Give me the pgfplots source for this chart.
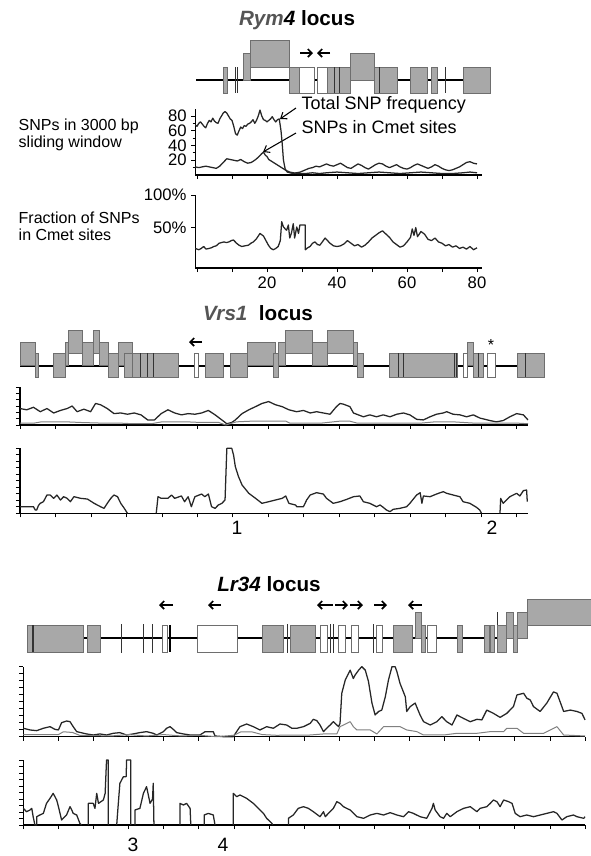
\documentclass[border=0pt]{standalone}
\usepackage{fontspec}
\setmainfont{Liberation Sans}
\usepackage{pgfplots}
\pgfplotsset{compat=1.18}
\usetikzlibrary{arrows.meta}
\definecolor{gfill}{RGB}{168,168,168}
\definecolor{gedge}{RGB}{110,110,110}
\definecolor{tgray}{RGB}{85,85,85}
\newcommand\gb[4]{\addplot[draw=gedge, fill=gfill, line width=0.6pt] coordinates {(#1,#2) (#3,#2) (#3,#4) (#1,#4) (#1,#2)};}
\newcommand\wb[4]{\addplot[draw=gedge, fill=white, line width=0.6pt] coordinates {(#1,#2) (#3,#2) (#3,#4) (#1,#4) (#1,#2)};}
\newcommand\vl[3]{\addplot[draw=black!80, line width=0.7pt] coordinates {(#1,#2) (#1,#3)};}
\newcommand\hl[3]{\addplot[draw=black, line width=1.1pt] coordinates {(#1,#3) (#2,#3)};}
\newcommand\ar[3]{\addplot[-{Straight Barb[length=3pt,width=6pt]}, line width=1.3pt, black] coordinates {(#1,#3) (#2,#3)};}
\pgfplotsset{
  dax/.style={scale only axis, anchor=south west, axis x line=bottom, axis y line=left,
    axis line style={-, line width=0.8pt}, tick align=outside,
    major tick length=3pt, minor tick length=2pt,
    tick style={black, line width=0.6pt},
    ticklabel style={font=\fontsize{12.5}{14}\selectfont},
    /pgf/number format/assume math mode=true, clip=false,
    unbounded coords=jump,
    every axis plot/.append style={line join=round}},
  tot/.style={black!85, line width=0.95pt},
  cme/.style={black!50, line width=0.75pt},
}
\begin{document}
\begin{tikzpicture}
\useasboundingbox (0,0) rectangle (442.5pt,-642pt);
% ---------- overlay: gene models and texts in pixel coordinates ----------
\begin{axis}[at={(0,0)}, anchor=north west, scale only axis, width=442.5pt, height=642pt,
  xmin=0, xmax=590, ymin=0, ymax=856, y dir=reverse, hide axis, clip=false]
% Rym4
\hl{196}{463}{80}
\gb{223}{67}{227}{93}
\vl{235}{67}{93}\vl{237.5}{67}{93}
\gb{243}{53}{250}{80}
\gb{250}{40}{289}{67}
\gb{289}{67}{299}{93}
\wb{299}{67}{314}{93}
\wb{317}{67}{327}{93}
\gb{327}{67}{350}{93}
\vl{334}{67}{93}\vl{339}{67}{93}
\gb{350}{53}{374}{80}
\gb{374}{67}{397}{93}
\vl{379}{67}{93}
\gb{410}{67}{427}{93}
\gb{431}{67}{437}{93}
\vl{445}{67}{93}
\gb{463}{67}{490}{93}
\ar{300}{313}{53}
\ar{330}{317}{53}
% Vrs1
\hl{20}{517}{366}
\gb{20}{342}{35}{365}
\gb{35}{353}{38}{377}
\gb{53}{353}{65}{377}
\gb{65}{342}{68}{365}
\gb{68}{330}{82}{353}
\gb{82}{342}{93}{365}
\gb{93}{330}{99}{353}
\gb{99}{342}{108}{365}
\gb{108}{353}{118}{377}
\gb{118}{342}{132}{365}
\gb{124}{353}{132}{377}
\gb{132}{353}{178}{377}
\vl{140}{353}{377}\vl{147}{353}{377}\vl{153}{353}{377}
\wb{194}{353}{198}{377}
\gb{205}{353}{223}{377}
\gb{230}{353}{247}{377}
\gb{247}{342}{275}{365}
\gb{273}{353}{278}{377}
\gb{278}{342}{285}{365}
\gb{285}{330}{312}{353}
\gb{312}{342}{327}{365}
\gb{327}{330}{353}{353}
\gb{353}{342}{357}{365}
\gb{357}{353}{363}{377}
\gb{389}{353}{457}{377}
\vl{398}{353}{377}\vl{403}{353}{377}\vl{454}{353}{377}\vl{456}{353}{377}
\wb{463}{353}{467}{377}
\gb{467}{342}{473}{365}
\gb{473}{353}{483}{377}
\vl{478}{353}{377}
\wb{487}{353}{495}{377}
\gb{517}{353}{544}{377}
\vl{525}{353}{377}
\ar{202}{189}{342}
\node[font=\fontsize{12}{12}\selectfont] at (axis cs:491,345) {*};
% Lr34
\hl{27}{527}{638}
\gb{27}{625}{83}{652}
\vl{32}{625}{652}\vl{33.5}{625}{652}
\gb{87}{625}{100}{652}
\vl{121}{624}{653}\vl{143}{624}{653}\vl{152}{624}{653}
\wb{162}{625}{167}{652}
\addplot[black, line width=1.5pt] coordinates {(169.5,625) (169.5,652)};
\wb{197}{625}{237}{652}
\gb{262}{625}{283}{652}
\vl{287}{624}{653}
\gb{290}{625}{315}{652}
\wb{320}{625}{327}{652}
\vl{330}{624}{653}\vl{333}{624}{653}
\wb{338}{625}{345}{652}
\wb{351}{625}{358}{652}
\vl{373}{624}{653}
\wb{376}{625}{382}{652}
\gb{393}{625}{412}{652}
\gb{415}{612}{421}{638}
\gb{421}{625}{425}{652}
\wb{427}{625}{436}{652}
\gb{457}{625}{462}{652}
\gb{484}{625}{489}{652}
\gb{490}{625}{494}{652}
\vl{497}{612}{652}
\gb{497}{625}{506}{652}
\gb{506}{612}{513}{638}
\gb{513}{625}{517}{652}
\gb{517}{612}{527}{638}
\gb{527}{599}{591}{625}
\ar{173}{159}{605}
\ar{221}{208}{605}
\ar{333}{317}{605}
\ar{335}{348}{605}
\ar{350}{363}{605}
\ar{374}{387}{605}
\ar{422}{408}{605}
% titles
\node[anchor=base, font=\fontsize{15.5}{18}\selectfont] at (axis cs:297,25) {{\color{tgray}\bfseries\itshape Rym}{\bfseries\itshape 4} \textbf{locus}};
\node[anchor=base, font=\fontsize{15.5}{18}\selectfont] at (axis cs:258,320) {{\color{tgray}\bfseries\itshape Vrs1}\ \ \textbf{locus}};
\node[anchor=base, font=\fontsize{15.5}{18}\selectfont] at (axis cs:269,591) {{\bfseries\itshape Lr34} \textbf{locus}};
% left labels
\node[anchor=base west, font=\fontsize{12}{13}\selectfont] at (axis cs:14,130) {SNPs in 3000 bp};
\node[anchor=base west, font=\fontsize{12}{13}\selectfont] at (axis cs:14,147) {sliding window};
\node[anchor=base west, font=\fontsize{12}{13}\selectfont] at (axis cs:14,223) {Fraction of SNPs};
\node[anchor=base west, font=\fontsize{12}{13}\selectfont] at (axis cs:14,240) {in Cmet sites};
% annotations
\node[anchor=base west, font=\fontsize{13.5}{15}\selectfont] at (axis cs:297,109) {Total SNP frequency};
\node[anchor=base west, font=\fontsize{13.5}{15}\selectfont] at (axis cs:297,133) {SNPs in Cmet sites};
\draw[-{Straight Barb[length=4pt,width=6pt]}, line width=0.8pt] (axis cs:296,108) -- (axis cs:280,119);
\draw[-{Straight Barb[length=4pt,width=6pt]}, line width=0.8pt] (axis cs:296,133) -- (axis cs:263,152);
% numbers
\node[font=\fontsize{14.5}{15}\selectfont] at (axis cs:237,528) {1};
\node[font=\fontsize{14.5}{15}\selectfont] at (axis cs:492,528) {2};
\node[font=\fontsize{14.5}{15}\selectfont] at (axis cs:133,845) {3};
\node[font=\fontsize{14.5}{15}\selectfont] at (axis cs:223,845) {4};
\end{axis}
% ---------- Rym4 SNP counts ----------
\begin{axis}[dax, at={(146.44pt,-131.25pt)}, width=215.25pt, height=49.8pt,
  xmin=-0.5, xmax=81.5, ymin=0, ymax=90, xtick={0,10,...,80}, xticklabels={},
  ytick={20,40,60,80}, minor ytick={10,30,50,70}]
\addplot[tot] coordinates {(-0.5,68)(0,66)(0.5,70)(1,72)(1.5,69)(2,66)(2.5,64)(3,70)(3.5,74)(4,72)(4.5,77)(5,73)(5.5,71)(6,70)(6.5,76)(7,80)(7.5,84)(8,86)(8.5,84)(9,80)(9.5,76)(10,74)(10.5,66)(11,56)(11.5,54)(12,60)(12.5,65)(13,63)(13.5,67)(14,66)(14.5,69)(15,70)(15.5,72)(16,75)(16.5,70)(17,74)(17.5,80)(18,88)(18.5,80)(19,75)(19.5,74)(20,72)(20.5,74)(21,76)(21.5,79)(22,75)(22.5,72)(23,75)(23.5,76)(24,60)(24.3,45)(24.7,20)(25.2,8)(25.8,4)(26.5,3)(27.5,2)(28.5,3)(29.5,4)(30,5)(31,7)(32,9)(33,10)(34,12)(35,11)(36,13)(37,15)(38,13)(39,12)(40,14)(41,16)(42,13)(43,10)(44,9)(45,12)(46,15)(47,13)(48,10)(49,8)(50,11)(51,14)(52,16)(53,15)(54,12)(55,10)(56,12)(57,14)(58,11)(59,9)(60,8)(61,10)(62,13)(63,15)(64,13)(65,11)(66,9)(67,11)(68,14)(69,12)(70,9)(71,7)(72,6)(73,7)(74,9)(75,11)(76,14)(77,17)(78,18)(79,16)(80,15)};
\addplot[tot] coordinates {(-0.5,11)(0.5,10)(1.5,11)(2.5,12)(3.5,11)(4.5,10)(5.5,9)(6.5,12)(7.5,17)(8.5,22)(9.5,21)(10.5,20)(11.5,19)(12.5,21)(13.5,18)(14.5,16)(15.5,17)(16.5,20)(17.5,24)(18.5,29)(19,31)(19.5,27)(20,25)(20.5,21)(21.5,18)(22.5,15)(23.5,12)(24.5,9)(25.5,6)(26.5,4)(27.5,3)(29,2)(31,2)(33,3)(35,2)(37,3)(40,4)(43,3)(46,2)(49,3)(52,4)(55,3)(58,2)(61,3)(64,4)(67,3)(70,2)(73,2)(76,3)(78,4)(80,3)};
\end{axis}
% ---------- Rym4 fraction ----------
\begin{axis}[dax, at={(146.44pt,-201pt)}, width=215.25pt, height=54.75pt,
  xmin=-0.5, xmax=81.5, ymin=-12, ymax=100, xtick={0,10,...,80}, xticklabels={,,20,,40,,60,,80},
  ytick={50,100}, yticklabels={50\%,100\%}]
\addplot[tot] coordinates {(-0.5,18)(0.5,16)(1.2,18)(1.9,21)(2.6,17)(3.4,18)(4.1,19)(4.8,21)(5.5,22)(6.3,26)(7,27)(7.7,28)(8.4,27)(9.1,28)(9.8,30)(10.4,31)(11.3,26)(12,23)(12.8,21)(13.7,22)(14.7,23)(15.4,26)(16.1,28)(17,33)(18,41)(19,37)(19.7,30)(20.4,23)(21.1,18)(21.8,16)(22.5,18)(23.2,21)(23.8,30)(24.2,59)(24.7,51)(25.2,48)(25.6,46)(26.1,54)(26.5,34)(27,42)(27.5,56)(27.9,34)(28.5,51)(29,41)(29.4,54)(30.4,54)(30.9,54)(30.95,16)(31.6,19)(32.3,21)(33,26)(33.7,28)(34.4,24)(35.1,23)(35.8,28)(36.6,34)(37.3,30)(38,26)(39,22)(40,21)(41,22)(42,25)(43,30)(44,26)(45,22)(46,24)(47,20)(48,23)(49,28)(50,34)(51,38)(52,42)(53,45)(54,40)(55,35)(56,28)(57,24)(58,20)(59,22)(60,28)(61,35)(61.5,48)(62,38)(62.5,50)(63,36)(64,44)(65,40)(66,32)(67,30)(68,34)(69,28)(70,26)(71,22)(72,24)(73,20)(74,22)(75,18)(76,20)(77,17)(78,21)(79,16)(80,19)};
\end{axis}
% ---------- Vrs1 SNP counts ----------
\begin{axis}[dax, at={(15pt,-318.75pt)}, width=381pt, height=28.5pt,
  xmin=0, xmax=14.32, ymin=0, ymax=6, xtick={0,...,14}, xticklabels={}, ytick={0,...,6}, yticklabels={}]
\addplot[tot] coordinates {(0,2.6)(0.19,2.4)(0.38,2.8)(0.57,2.1)(0.76,2.6)(0.95,1.9)(1.14,2.3)(1.33,2.6)(1.47,3.0)(1.61,2.1)(1.80,2.5)(1.99,2.1)(2.13,3.4)(2.27,3.2)(2.46,2.6)(2.65,1.8)(2.84,1.9)(3.03,1.7)(3.22,1.9)(3.41,1.6)(3.60,0.8)(3.79,0.8)(3.98,1.8)(4.17,2.4)(4.36,1.9)(4.55,1.6)(4.74,1.8)(4.93,1.7)(5.12,1.9)(5.31,2.3)(5.50,1.6)(5.69,0.8)(5.83,0.2)(5.97,0.4)(6.07,0.8)(6.26,1.8)(6.45,2.4)(6.64,2.9)(6.82,3.4)(7.01,3.7)(7.20,3.2)(7.39,2.9)(7.58,2.4)(7.80,2.1)(7.99,2.3)(8.18,1.9)(8.36,2.1)(8.55,1.9)(8.74,1.7)(8.92,2.9)(9.02,3.4)(9.11,3.3)(9.30,2.9)(9.40,1.9)(9.49,1.7)(9.68,1.3)(9.86,1.6)(10.05,1.3)(10.24,1.6)(10.43,1.3)(10.62,1.7)(10.81,1.9)(10.99,1.6)(11.18,0.9)(11.37,0.8)(11.56,1.3)(11.74,1.7)(11.93,1.9)(12.03,2.1)(12.21,1.7)(12.40,1.6)(12.59,1.3)(12.78,1.6)(12.96,1.1)(13.25,0.7)(13.43,0.5)(13.62,0.7)(13.81,1.3)(14.0,1.8)(14.19,1.6)(14.32,0.8)};
\addplot[cme] coordinates {(0,0.3)(0.4,0.3)(0.6,0.5)(1.3,0.5)(1.7,0.4)(2.3,0.3)(2.8,0.3)(3.2,0.2)(3.7,0.2)(4.0,0.5)(4.7,0.5)(5.1,0.4)(5.6,0.4)(5.8,0.0)(6.1,0.5)(6.5,0.6)(7.5,0.6)(7.6,0.3)(8.5,0.3)(9.0,0.6)(9.3,0.6)(9.5,0.3)(10.5,0.3)(11.3,0.3)(11.7,0.5)(12.2,0.5)(12.8,0.3)(13.5,0.3)(14.0,0.3)(14.32,0.2)};
\end{axis}
% ---------- Vrs1 fraction ----------
\begin{axis}[dax, at={(15pt,-385pt)}, width=381pt, height=48.75pt,
  xmin=0, xmax=14.32, ymin=0, ymax=100, xtick={0,...,14}, xticklabels={}, ytick={0,10,...,100}, yticklabels={}]
\addplot[tot] coordinates {(0,10.2)(0.19,10.2)(0.38,10.2)(0.43,5.1)(0.47,5.1)(0.52,12)(0.57,15.4)(0.66,17.9)(0.76,28.2)(0.85,28.2)(0.95,23.1)(1.04,28.2)(1.14,20.5)(1.23,25.6)(1.33,23.1)(1.42,17.9)(1.52,25.6)(1.71,23.1)(1.90,22)(2.09,15.4)(2.27,10.2)(2.37,7.7)(2.46,15.4)(2.56,23.1)(2.65,28.2)(2.75,25.6)(2.84,15.4)(2.94,7.7)(3.03,0)(3.2,nan)(3.84,0)(3.89,25.6)(3.98,23.1)(4.17,23.1)(4.27,28.2)(4.36,23.1)(4.55,26.7)(4.64,17.9)(4.74,25.6)(4.83,10.2)(4.93,25.6)(5.12,29.7)(5.21,25.6)(5.31,29.7)(5.40,10.2)(5.50,7.7)(5.59,12.8)(5.69,15.4)(5.78,20.5)(5.83,100)(5.97,100)(6.02,89.7)(6.07,71.8)(6.16,56.4)(6.26,43.6)(6.45,30.8)(6.64,23.1)(6.82,15.4)(7.01,17.9)(7.20,20.5)(7.39,23.1)(7.49,26.7)(7.58,15.4)(7.77,12.8)(7.80,10.2)(7.99,10.2)(8.08,20.5)(8.18,28.2)(8.36,31.8)(8.55,29.7)(8.64,23.1)(8.83,15.4)(9.02,17.9)(9.21,21.5)(9.40,25.6)(9.58,26.7)(9.68,17.9)(9.86,15.4)(10.05,10.2)(10.15,12.8)(10.24,9.2)(10.33,5.1)(10.43,2.6)(10.52,6.2)(10.71,7.7)(10.90,10.2)(10.99,15.4)(11.18,28.2)(11.28,31.8)(11.33,15.4)(11.37,26.7)(11.56,25.6)(11.74,29.7)(11.93,33.3)(12.03,30.8)(12.21,28.2)(12.40,25.6)(12.49,17.9)(12.68,15.4)(12.87,9.2)(12.96,5.1)(13.01,0)(13.2,nan)(13.53,0)(13.55,23.1)(13.62,15.4)(13.81,25.6)(14.0,30.8)(14.09,26.7)(14.19,34.9)(14.28,35.9)(14.30,17.9)};
\end{axis}
% ---------- Lr34 SNP counts ----------
\begin{axis}[dax, at={(17.5pt,-552.5pt)}, width=421.3pt, height=52.5pt,
  xmin=0, xmax=16, ymin=0, ymax=10, xtick={0,...,16}, xticklabels={}, ytick={0,...,10}, yticklabels={}]
\addplot[tot] coordinates {(0,1.2)(0.19,0.96)(0.38,0.86)(0.57,1.2)(0.76,1.43)(0.90,1.05)(1.0,0.96)(1.09,2.0)(1.23,2.24)(1.33,2.14)(1.42,1.43)(1.52,0.72)(1.80,0.39)(1.99,0.24)(2.18,0.39)(2.37,0.24)(2.56,0.48)(2.75,0.58)(2.94,0.24)(3.13,0.39)(3.32,0.58)(3.51,0.72)(3.70,0.48)(3.80,0.24)(3.99,0.72)(4.08,1.2)(4.18,1.43)(4.27,1.05)(4.37,0.58)(4.56,0.39)(4.75,0.24)(5.03,0.24)(5.18,0.72)(5.41,0.72)(5.46,0.1)(5.70,0)(5.98,0)(6.17,1.43)(6.36,1.81)(6.55,1.43)(6.74,0.96)(6.93,1.43)(7.12,1.2)(7.31,1.81)(7.50,1.67)(7.65,1.2)(7.79,1.2)(7.98,1.43)(8.17,1.9)(8.26,2.48)(8.36,2.29)(8.45,1.67)(8.55,0.72)(8.64,1.2)(8.74,1.67)(8.83,2.14)(8.98,1.43)(9.02,1.9)(9.07,6.2)(9.17,8.1)(9.31,9.5)(9.40,8.3)(9.45,8.8)(9.55,9.5)(9.64,10)(9.74,9.5)(9.83,7.9)(9.93,4.8)(10.02,3.1)(10.12,3.6)(10.21,3.8)(10.31,5.7)(10.40,8.1)(10.50,10)(10.59,10)(10.64,9.3)(10.73,7.6)(10.88,5.7)(10.92,3.6)(11.02,4.3)(11.16,4.8)(11.30,3.1)(11.40,2.14)(11.59,1.67)(11.78,2.14)(11.92,2.86)(12.06,2.14)(12.21,1.67)(12.35,3.1)(12.54,2.6)(12.73,2.14)(12.92,2.48)(13.06,2.4)(13.20,3.8)(13.39,3.33)(13.58,2.76)(13.77,3.33)(13.96,4.3)(14.06,5.96)(14.25,6.2)(14.34,5.5)(14.44,5.24)(14.53,4.3)(14.72,3.6)(14.91,4.8)(15.10,6.4)(15.20,6.2)(15.39,3.6)(15.58,3.8)(15.77,3.6)(15.91,3.33)(16.0,2.4)};
\addplot[cme] coordinates {(0,0.3)(1.0,0.3)(1.14,0.7)(1.4,0.6)(1.6,0.2)(2.5,0.1)(3,0.3)(3.5,0.1)(4.0,0.3)(4.5,0.1)(5,0.2)(5.5,0)(6.0,0.2)(6.2,0.7)(6.5,0.7)(6.8,0.3)(7.2,0.2)(8.17,0.24)(8.55,0.39)(8.93,0.39)(9.02,1.43)(9.31,2.14)(9.40,1.43)(9.50,0.96)(9.88,0.96)(10.07,0.39)(10.26,1.43)(10.73,1.43)(10.92,0.96)(11.21,0.72)(11.40,0.24)(11.97,0.24)(12.35,0.48)(12.92,0.48)(13.30,0.72)(13.68,0.72)(13.77,1.2)(14.06,1.2)(14.25,0.48)(14.82,0.48)(15.01,0.96)(15.20,1.43)(15.39,0.24)(16.0,0.1)};
\end{axis}
% ---------- Lr34 fraction ----------
\begin{axis}[dax, at={(17.5pt,-618.75pt)}, width=421.3pt, height=48.75pt,
  xmin=0, xmax=16, ymin=0, ymax=100, xtick={0,...,16}, xticklabels={}, ytick={0,10,...,100}, yticklabels={}]
\addplot[tot] coordinates {(0,25.6)(0.09,20.5)(0.19,23.1)(0.24,25.6)(0.28,12.8)(0.33,0)(0.38,0)(0.38,12.8)(0.47,15.4)(0.57,17.9)(0.66,33.3)(0.76,41)(0.85,48.7)(0.90,43.6)(0.95,38.5)(1.0,28.2)(1.09,7.7)(1.23,15.4)(1.33,28.2)(1.38,23.1)(1.42,17.9)(1.52,15.4)(1.61,2.6)(1.66,0)(1.75,nan)(1.85,0)(1.85,33.3)(1.99,33.3)(2.04,25.6)(2.09,48.7)(2.14,33.3)(2.28,38.5)(2.33,48.7)(2.37,100)(2.42,100)(2.42,0)(2.5,nan)(2.66,0)(2.68,15.4)(2.75,64.1)(2.85,74.4)(2.93,74.4)(2.94,100)(3.06,100)(3.06,0)(3.1,nan)(3.18,0)(3.18,23.1)(3.32,25.6)(3.42,48.7)(3.51,59)(3.61,33.3)(3.68,40)(3.70,64.1)(3.72,0)(4.0,nan)(4.46,0)(4.46,33.3)(4.56,30.8)(4.65,33.3)(4.75,25.6)(4.77,0)(4.9,nan)(5.15,0)(5.15,15.4)(5.27,17.9)(5.41,15.4)(5.46,0)(5.7,nan)(5.98,0)(5.98,48.7)(6.08,43.6)(6.17,46.2)(6.36,41)(6.55,33.3)(6.74,23.1)(6.84,17.9)(6.93,10.3)(7.08,2.6)(7.10,0)(7.3,nan)(7.55,0)(7.55,10.3)(7.69,15.4)(7.83,25.6)(7.98,28.2)(8.12,25.6)(8.26,20.5)(8.45,12.8)(8.55,20.5)(8.60,12.8)(8.69,17.9)(8.83,25.6)(8.93,35.9)(9.02,33.3)(9.12,28.2)(9.21,25.6)(9.31,23.1)(9.50,12.8)(9.69,10.3)(9.88,15.4)(10.07,17.9)(10.26,15.4)(10.45,19)(10.64,15.4)(10.83,12.8)(10.97,20.5)(11.11,17.9)(11.30,12.8)(11.49,10.3)(11.64,25.6)(11.68,33.3)(11.73,23.1)(11.87,12.8)(11.97,10.3)(12.06,17.9)(12.16,12.8)(12.35,20.5)(12.54,25.6)(12.73,28.2)(12.92,20.5)(13.01,25.6)(13.20,28.2)(13.30,33.3)(13.39,38.5)(13.49,35.9)(13.58,28.2)(13.68,38.5)(13.82,35.9)(13.92,33.3)(14.01,17.9)(14.15,12.8)(14.34,15.4)(14.53,12.8)(14.72,15.4)(14.91,17.9)(15.10,20.5)(15.20,17.9)(15.34,7.7)(15.48,12.8)(15.67,15.4)(15.77,12.8)(15.96,10.3)(16.0,12.8)};
\end{axis}
\end{tikzpicture}
\end{document}
